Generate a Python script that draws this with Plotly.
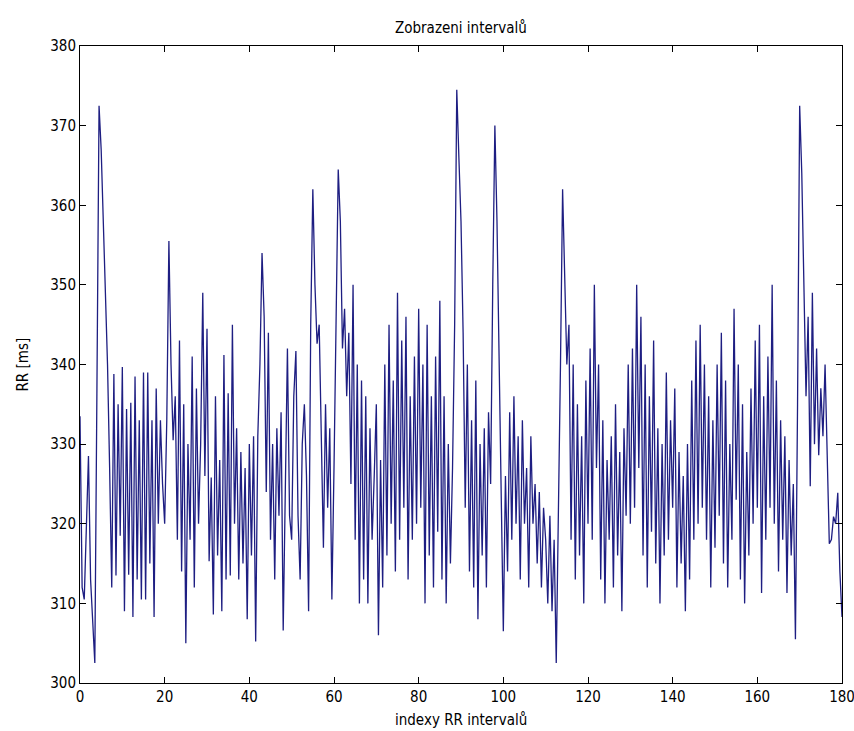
import numpy as np
import plotly.graph_objects as go

rr_000_010 = [333.5, 312, 310.5, 320, 328.5, 313, 307, 302.5, 337, 372.5,
              367, 358, 349, 340, 327, 312, 338.8, 313.5, 335, 318.5]
rr_010_020 = [339.7, 309, 334.4, 313.6, 335.2, 308.3, 338.5, 313, 333, 310.5,
              339, 310.5, 339, 315, 333, 308.3, 337, 320, 333, 325]
rr_020_030 = [320, 333, 355.5, 340, 330.5, 336, 318, 343, 314, 335,
              305, 330, 318, 341, 312, 337, 320, 330, 349, 326]
rr_030_040 = [344.5, 315.3, 325.8, 308.6, 336, 316, 328, 309, 341.2, 313,
              336.4, 313.5, 345, 320, 332, 313, 329, 315, 327, 308]
rr_040_050 = [330, 316, 331, 305.2, 331, 340, 354, 346, 324, 344,
              318, 330, 313, 332, 321, 334, 306.6, 328, 342, 321]
rr_050_060 = [318, 336, 341.7, 321, 313, 330, 335, 326, 309, 345,
              362, 350, 342.6, 345, 330, 317, 335, 322, 332, 310.5]
rr_060_070 = [327, 347, 364.5, 358, 342, 347, 336, 344, 325, 350,
              318, 340, 310, 338, 313, 336, 310, 332, 318, 326]
rr_070_080 = [335, 306, 328, 312, 340, 316, 345, 320, 338, 314,
              349, 318, 343, 322, 346, 313, 336, 318, 341, 320]
rr_080_090 = [347, 322, 340, 310, 345, 316, 336, 312, 341, 319,
              348, 313, 336, 310, 330, 315, 327, 345, 374.5, 366]
rr_090_100 = [358, 344, 322, 340, 314, 333, 312, 338, 308, 330,
              316, 332, 312, 334, 325, 350, 370, 358, 340, 320]
rr_100_110 = [306.5, 326, 314, 334, 318, 336, 320, 331, 313, 333,
              320, 327, 312, 331, 320, 325, 315, 324, 312, 322]
rr_110_120 = [318, 310, 321, 309, 318, 302.5, 320, 340, 362, 352,
              340, 345, 318, 340, 313, 335, 316, 331, 310, 338]
rr_120_130 = [320, 342, 318, 350, 327, 340, 313, 333, 310, 328,
              318, 331, 312, 335, 316, 329, 309, 332, 321, 340]
rr_130_140 = [320, 342, 322, 350, 327, 346, 316, 340, 312, 336,
              319, 343, 315, 332, 310, 330, 316, 339, 318, 333]
rr_140_150 = [322, 337, 312, 329, 315, 326, 309, 330, 313, 338,
              318, 343, 320, 345, 322, 340, 318, 336, 312, 333]
rr_150_160 = [317, 340, 321, 344, 315, 338, 312, 330, 318, 347,
              323, 340, 313, 335, 310, 329, 316, 337, 320, 343]
rr_160_170 = [322, 345, 311.3, 336, 318, 341, 322, 350, 320, 338,
              314, 333, 318, 331, 311.3, 328, 316, 325, 305.5, 335]
rr_170_180 = [372.5, 364, 352, 336, 346, 324.7, 349, 330, 342, 328.6,
              337, 331, 340, 328, 317.5, 318, 320.9, 320, 323.9, 314, 308.3]

rr = (rr_000_010 + rr_010_020 + rr_020_030 + rr_030_040 + rr_040_050 +
      rr_050_060 + rr_060_070 + rr_070_080 + rr_080_090 + rr_090_100 +
      rr_100_110 + rr_110_120 + rr_120_130 + rr_130_140 + rr_140_150 +
      rr_150_160 + rr_160_170 + rr_170_180)
idx = np.linspace(0, 180, len(rr))

x_ticks = [0, 20, 40, 60, 80, 100, 120, 140, 160, 180]
y_ticks = [300, 310, 320, 330, 340, 350, 360, 370, 380]

title_text = "Zobrazeni intervalů"
x_label = "indexy RR intervalů"
y_label = "RR [ms]"

font_family = "DejaVu Sans Condensed, Liberation Sans Narrow, Liberation Sans, sans-serif"
text_font = dict(family=font_family, size=15, color="black")

fig = go.Figure()
fig.add_trace(go.Scatter(
    x=idx, y=rr, mode="lines",
    line=dict(color="rgb(30,30,130)", width=1.3),
    showlegend=False, hoverinfo="x+y",
))

axis_common = dict(
    showgrid=False, zeroline=False,
    showline=True, linecolor="black", linewidth=1, mirror="allticks",
    ticks="inside", ticklen=6, tickcolor="black", tickwidth=1,
    tickfont=text_font, automargin=False,
)

fig.update_layout(
    width=854, height=731,
    paper_bgcolor="white", plot_bgcolor="white",
    margin=dict(l=80, r=12, t=46, b=48),
    xaxis=dict(range=[0, 180], tickmode="array", tickvals=x_ticks,
               ticklabeloverflow="allow", **axis_common),
    yaxis=dict(range=[300, 380], tickmode="array", tickvals=y_ticks,
               ticklabeloverflow="allow", **axis_common),
    annotations=[
        dict(text=title_text, xref="paper", yref="paper", x=0.5, y=1,
             yshift=18, xanchor="center", yanchor="middle", showarrow=False,
             font=text_font),
        dict(text=x_label, xref="paper", yref="paper", x=0.5, y=0,
             yshift=-37, xanchor="center", yanchor="middle", showarrow=False,
             font=text_font),
        dict(text=y_label, xref="paper", yref="paper", x=0, y=0.5,
             xshift=-58, xanchor="center", yanchor="middle", showarrow=False,
             textangle=-90, font=text_font),
    ],
)

fig.write_html("out.html", config={"displayModeBar": False},
               post_script="document.body.style.margin='0px';")
